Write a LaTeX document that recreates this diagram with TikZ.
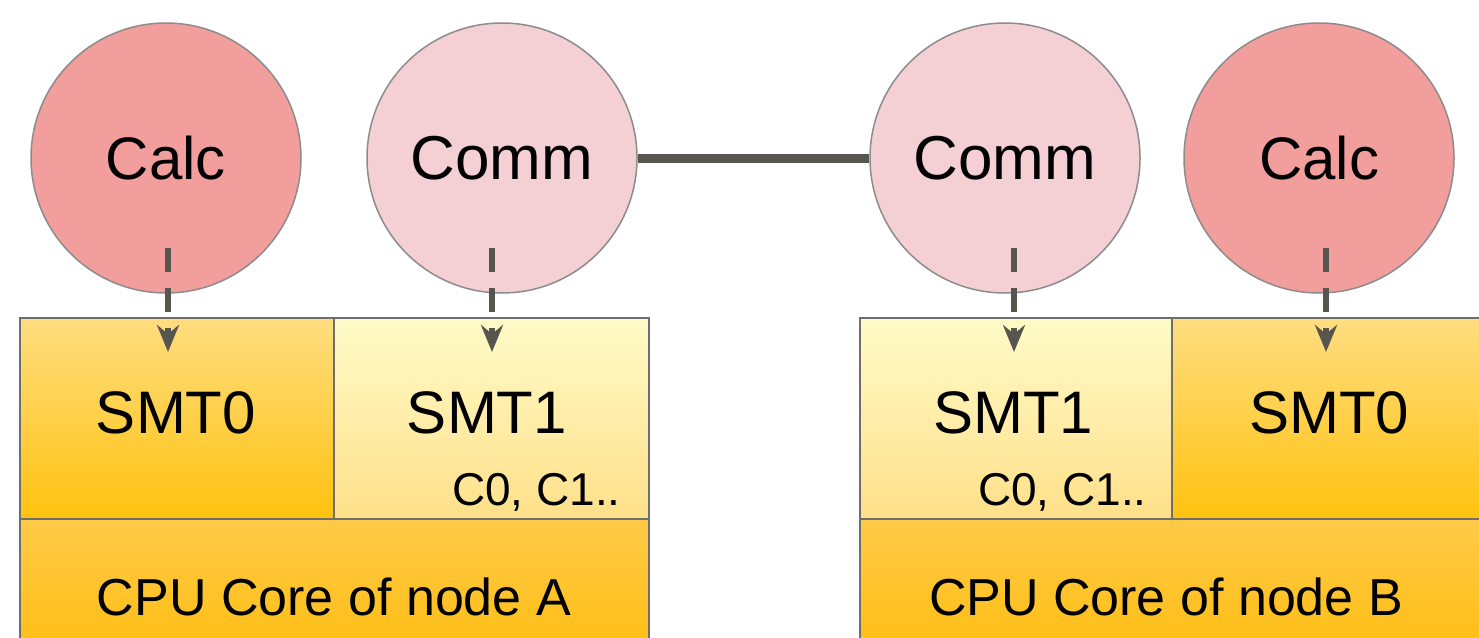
\documentclass[tikz,border=0pt]{standalone}
\usepackage{fontspec}
\setmainfont{Liberation Sans}
\usetikzlibrary{arrows.meta}
\definecolor{calcfill}{HTML}{F19E9C}
\definecolor{commfill}{HTML}{F4CFD3}
\definecolor{circline}{HTML}{8C8C8C}
\definecolor{boxline}{HTML}{6E6E6E}
\definecolor{arrowcol}{HTML}{56564E}
\definecolor{smtzerotop}{HTML}{FFDD80}
\definecolor{smtzerobot}{HTML}{FFC20F}
\definecolor{smtonetop}{HTML}{FFFBC8}
\definecolor{smtonebot}{HTML}{FFE08A}
\definecolor{cputop}{HTML}{FFCA48}
\definecolor{cpubot}{HTML}{FFBE14}
\begin{document}
\begin{tikzpicture}[x=1pt,y=-1pt,
  bubble/.style={circle,draw=circline,line width=1.5pt,minimum size=270pt,inner sep=0pt},
  calcbubble/.style={bubble,fill=calcfill,font=\fontsize{60}{72}\selectfont},
  commbubble/.style={bubble,fill=commfill,font=\fontsize{62}{74}\selectfont},
  boxbase/.style={rectangle,draw=boxline,line width=2pt,inner sep=0pt,minimum height=201pt},
  smtzero/.style={boxbase,top color=smtzerotop,bottom color=smtzerobot},
  smtone/.style={boxbase,top color=smtonetop,bottom color=smtonebot},
  cpubox/.style={boxbase,top color=cputop,bottom color=cpubot,minimum height=131pt},
  bigtxt/.style={font=\fontsize{60}{72}\selectfont,inner sep=0pt,anchor=base},
  smalltxt/.style={font=\fontsize{46}{55}\selectfont,inner sep=0pt,anchor=base east},
  cputxt/.style={font=\fontsize{52}{62}\selectfont,inner sep=0pt,anchor=base},
  dasharrow/.style={draw=arrowcol,line width=6pt,dash pattern=on 24pt off 16pt,
    -{Stealth[length=27pt,width=22pt,inset=9pt]}},
  link/.style={draw=arrowcol,line width=9pt}
]
\useasboundingbox (0,0) rectangle (1479,637);

% circles
\node[calcbubble] (calcA) at (166,158) {Calc};
\node[commbubble] (commA) at (502,158) {Comm};
\node[commbubble] (commB) at (1005,158) {Comm};
\node[calcbubble] (calcB) at (1319,158) {Calc};

\draw[link] (commA) -- (commB);

% node A boxes
\node[smtzero,minimum width=314pt] (smt0A) at (177,418.5) {};
\node[smtone,minimum width=315pt] (smt1A) at (491.5,418.5) {};
\node[cpubox,minimum width=629pt] (cpuA) at (334.5,584.5) {};

% node B boxes
\node[smtone,minimum width=312pt] (smt1B) at (1016,418.5) {};
\node[smtzero,minimum width=318pt] (smt0B) at (1331,418.5) {};
\node[cpubox,minimum width=630pt] (cpuB) at (1175,584.5) {};

% texts
\node[bigtxt] (tsmt0A) at (176,433) {SMT0};
\node[bigtxt] (tsmt1A) at (487,433) {SMT1};
\node[smalltxt] (tcA) at (621,505) {C0, C1..};
\node[cputxt] (tcpuA) at (334,615) {CPU Core of node A};

\node[bigtxt] (tsmt1B) at (1013,433) {SMT1};
\node[bigtxt] (tsmt0B) at (1329,433) {SMT0};
\node[smalltxt] (tcB) at (1147,505) {C0, C1..};
\node[cputxt] (tcpuB) at (1166,615) {CPU Core of node B};

% dashed arrows
\coordinate (sA0) at (168,248);
\coordinate (eA0) at (168,352);
\coordinate (sA1) at (492,248);
\coordinate (eA1) at (492,352);
\coordinate (sB1) at (1014,248);
\coordinate (eB1) at (1014,352);
\coordinate (sB0) at (1326,248);
\coordinate (eB0) at (1326,352);
\draw[dasharrow] (sA0) -- (eA0);
\draw[dasharrow] (sA1) -- (eA1);
\draw[dasharrow] (sB1) -- (eB1);
\draw[dasharrow] (sB0) -- (eB0);
\end{tikzpicture}
\end{document}
